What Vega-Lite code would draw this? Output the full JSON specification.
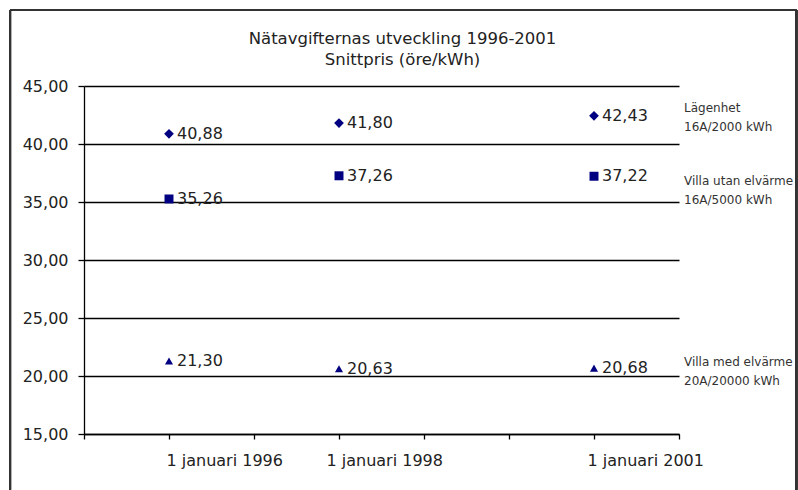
{
  "$schema": "https://vega.github.io/schema/vega-lite/v6.json",
  "width": 595,
  "height": 348,
  "autosize": {"type": "pad"},
  "padding": {"left": 9, "top": 9, "right": 0, "bottom": 0},
  "background": "white",
  "config": {"view": {"stroke": null}, "font": "DejaVu Sans"},
  "title": {
    "text": ["Nätavgifternas utveckling 1996-2001", "Snittpris (öre/kWh)"],
    "font": "DejaVu Sans",
    "fontSize": 16.5,
    "fontWeight": "normal",
    "color": "#222",
    "lineHeight": 21,
    "anchor": "middle",
    "dx": 21,
    "offset": -59
  },
  "data": {
    "values": [
      {"series": "Lägenhet", "year": 1996, "value": 40.88},
      {"series": "Lägenhet", "year": 1998, "value": 41.80},
      {"series": "Lägenhet", "year": 2001, "value": 42.43},
      {"series": "Villa utan elvärme", "year": 1996, "value": 35.26},
      {"series": "Villa utan elvärme", "year": 1998, "value": 37.26},
      {"series": "Villa utan elvärme", "year": 2001, "value": 37.22},
      {"series": "Villa med elvärme", "year": 1996, "value": 21.30},
      {"series": "Villa med elvärme", "year": 1998, "value": 20.63},
      {"series": "Villa med elvärme", "year": 2001, "value": 20.68}
    ]
  },
  "layer": [
    {
      "mark": {"type": "point", "filled": true, "color": "#000080", "opacity": 1},
      "encoding": {
        "x": {
          "field": "year",
          "type": "quantitative",
          "title": null,
          "scale": {"domain": [1995, 2002], "nice": false, "zero": false},
          "axis": {
            "values": [1995, 1996, 1997, 1998, 1999, 2000, 2001, 2002],
            "labelExpr": "datum.value == 1996 ? '1 januari 1996' : datum.value == 1998 ? '1 januari 1998' : datum.value == 2001 ? '1 januari 2001' : ''",
            "labelAlign": "left",
            "labelOffset": {"condition": [{"test": "datum.value == 1996", "value": -3}, {"test": "datum.value == 1998", "value": -13}], "value": -7},
            "labelFontSize": 16,
            "labelColor": "#222",
            "labelPadding": 13,
            "labelFlush": false,
            "labelOverlap": false,
            "tickSize": 5,
            "tickColor": "black",
            "domainColor": "black",
            "domainWidth": 1.3,
            "tickWidth": 1.3,
            "grid": false
          }
        },
        "y": {
          "field": "value",
          "type": "quantitative",
          "title": null,
          "scale": {"domain": [15, 45], "nice": false, "zero": false},
          "axis": {
            "values": [15, 20, 25, 30, 35, 40, 45],
            "labelExpr": "replace(format(datum.value, '.2f'), '.', ',')",
            "labelFontSize": 16,
            "labelColor": "#222",
            "labelPadding": 10,
            "tickSize": 6,
            "tickColor": "black",
            "tickWidth": 1.3,
            "domainColor": "black",
            "domainWidth": 1.3,
            "grid": true,
            "gridColor": "black",
            "gridOpacity": 1,
            "gridWidth": 1.3
          }
        },
        "shape": {
          "field": "series",
          "type": "nominal",
          "scale": {
            "domain": ["Lägenhet", "Villa utan elvärme", "Villa med elvärme"],
            "range": ["diamond", "square", "triangle-up"]
          },
          "legend": null
        },
        "size": {
          "field": "series",
          "type": "nominal",
          "scale": {
            "domain": ["Lägenhet", "Villa utan elvärme", "Villa med elvärme"],
            "range": [95, 66, 72]
          },
          "legend": null
        }
      }
    },
    {
      "transform": [{"calculate": "replace(format(datum.value, '.2f'), '.', ',')", "as": "label"}],
      "mark": {"type": "text", "align": "left", "baseline": "middle", "dx": 8, "fontSize": 16, "color": "#222"},
      "encoding": {
        "x": {"field": "year", "type": "quantitative", "title": null},
        "y": {"field": "value", "type": "quantitative", "title": null},
        "text": {"field": "label", "type": "nominal"}
      }
    },
    {
      "transform": [{"filter": "datum.year == 2001 && datum.series == 'Lägenhet'"}],
      "mark": {"type": "text", "align": "left", "baseline": "middle", "dx": 5, "dy": -8, "fontSize": 12, "lineHeight": 19, "color": "#333"},
      "encoding": {
        "x": {"datum": 2002, "type": "quantitative", "title": null},
        "y": {"field": "value", "type": "quantitative", "title": null},
        "text": {"value": ["Lägenhet", "16A/2000 kWh"]}
      }
    },
    {
      "transform": [{"filter": "datum.year == 2001 && datum.series == 'Villa utan elvärme'"}],
      "mark": {"type": "text", "align": "left", "baseline": "middle", "dx": 5, "dy": 5, "fontSize": 12, "lineHeight": 19, "color": "#333"},
      "encoding": {
        "x": {"datum": 2002, "type": "quantitative", "title": null},
        "y": {"field": "value", "type": "quantitative", "title": null},
        "text": {"value": ["Villa utan elvärme", "16A/5000 kWh"]}
      }
    },
    {
      "transform": [{"filter": "datum.year == 2001 && datum.series == 'Villa med elvärme'"}],
      "mark": {"type": "text", "align": "left", "baseline": "middle", "dx": 5, "dy": -6, "fontSize": 12, "lineHeight": 19, "color": "#333"},
      "encoding": {
        "x": {"datum": 2002, "type": "quantitative", "title": null},
        "y": {"field": "value", "type": "quantitative", "title": null},
        "text": {"value": ["Villa med elvärme", "20A/20000 kWh"]}
      }
    },
    {
      "mark": {"type": "rule", "color": "#333", "strokeWidth": 2},
      "encoding": {
        "x": {"datum": 1994.13, "type": "quantitative", "title": null},
        "x2": {"datum": 2003.38},
        "y": {"datum": 51.55, "type": "quantitative", "title": null}
      }
    },
    {
      "mark": {"type": "rule", "color": "#333", "strokeWidth": 2},
      "encoding": {
        "x": {"datum": 1994.13, "type": "quantitative", "title": null},
        "y": {"datum": 51.55, "type": "quantitative", "title": null},
        "y2": {"datum": 10.2}
      }
    },
    {
      "mark": {"type": "rule", "color": "#333", "strokeWidth": 2},
      "encoding": {
        "x": {"datum": 2003.38, "type": "quantitative", "title": null},
        "y": {"datum": 51.55, "type": "quantitative", "title": null},
        "y2": {"datum": 10.2}
      }
    }
  ]
}
